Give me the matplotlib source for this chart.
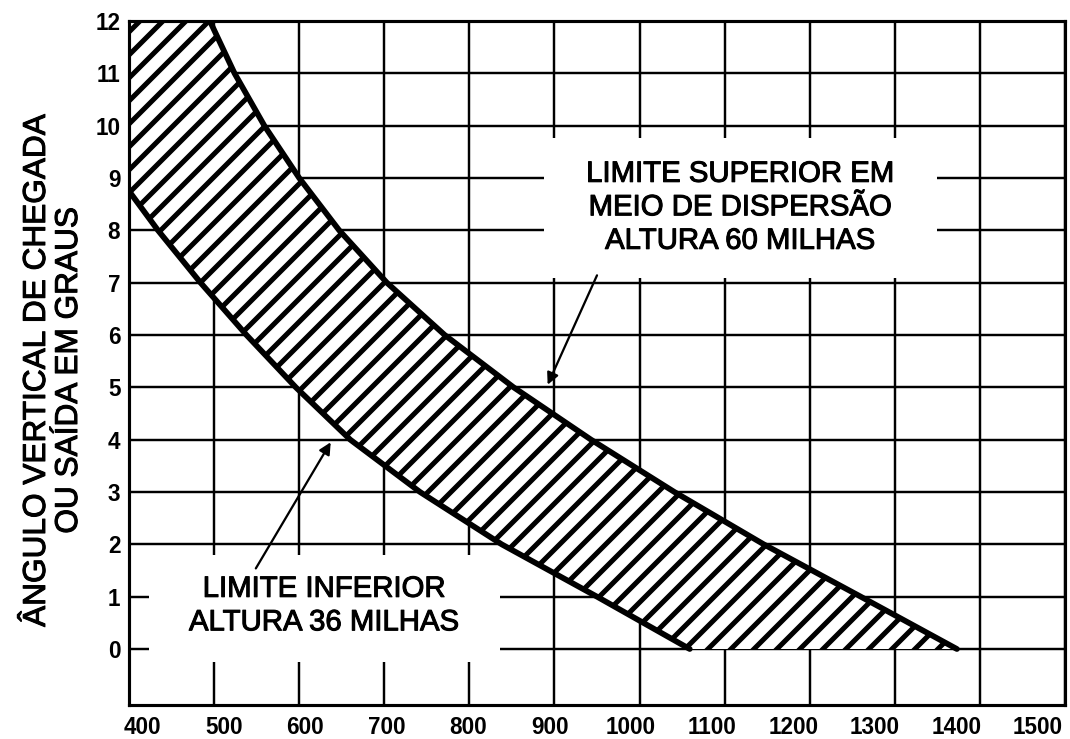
import numpy as np
import matplotlib.pyplot as plt
import matplotlib.patheffects as pe
from matplotlib.patches import Rectangle

DPI = 138
k = 125 / DPI  # tamanhos pensados para 125 dpi

plt.rcParams['font.family'] = ['Liberation Sans', 'DejaVu Sans']
plt.rcParams['hatch.linewidth'] = 2.9 * k

# Escalas dos eixos
x_ticks = np.arange(400, 1501, 100)
y_ticks = np.arange(0, 13, 1)

# Limite superior em meio de dispersão (altura 60 milhas)
sup_x = [495, 524, 559, 600, 647, 703, 771, 852, 943, 1041, 1146, 1260, 1373]
sup_y = [12, 11, 10, 9, 8, 7, 6, 5, 4, 3, 2, 1, 0]

# Limite inferior (altura 36 milhas)
inf_x = [400, 434, 484, 538, 596, 660, 742, 838, 950, 1059]
inf_y = [8.75, 8, 7, 6, 5, 4, 3, 2, 1, 0]

texto_sup = 'LIMITE SUPERIOR EM\nMEIO DE DISPERSÃO\nALTURA 60 MILHAS'
texto_inf = 'LIMITE INFERIOR\nALTURA 36 MILHAS'
titulo_y = 'ÂNGULO VERTICAL DE CHEGADA\nOU SAÍDA EM GRAUS'

fig = plt.figure(figsize=(1070 / DPI, 739 / DPI), dpi=DPI)
ax = fig.add_axes([0.1206, 0.046, 0.8747, 0.9256])
ax.set_xlim(400, 1493)
ax.set_ylim(-1.07, 12)

# grade (linhas principais) e rótulos do eixo x um pouco deslocados
ax.set_xticks(x_ticks)
ax.set_xticklabels([])
pos_rotulos = np.linspace(x_ticks[0] + 16, x_ticks[-1] - 32, len(x_ticks))
ax.set_xticks(pos_rotulos, labels=[str(v) for v in x_ticks], minor=True)
ax.set_yticks(y_ticks)
ax.tick_params(axis='x', which='both', length=0, pad=6.5 * k, labelsize=13 * k)
ax.tick_params(axis='y', length=0, pad=5 * k, labelsize=13 * k)
for lbl in ax.get_xticklabels(minor=True) + ax.get_yticklabels():
    lbl.set_fontweight('bold')

ax.set_axisbelow(True)
ax.grid(True, which='major', color='black', linewidth=1.4 * k)
for s in ax.spines.values():
    s.set_linewidth(1.8 * k)

# áreas brancas atrás das legendas
ax.add_patch(Rectangle((888, 7.09), 462, 2.67, facecolor='white',
                       edgecolor='none', zorder=1))
ax.add_patch(Rectangle((424, -0.25), 412, 2.04, facecolor='white',
                       edgecolor='none', zorder=1))

# faixa hachurada entre os dois limites
xmin, xmax = ax.get_xlim()
ymin, ymax = ax.get_ylim()
px = np.concatenate([sup_x, inf_x[::-1], [xmin]])
py = np.concatenate([sup_y, inf_y[::-1], [ymax]])
ax.fill(px, py, facecolor='white', edgecolor='black', hatch='//',
        linewidth=0, zorder=2)

ax.plot(sup_x, sup_y, color='black', linewidth=3.3 * k, solid_joinstyle='round',
        solid_capstyle='round', zorder=3)
ax.plot(inf_x, inf_y, color='black', linewidth=3.3 * k, solid_joinstyle='round',
        solid_capstyle='round', zorder=3)

# traço um pouco mais grosso nos textos
grosso = [pe.withStroke(linewidth=0.6 * k, foreground='black')]

ax.text(1118, 8.44, texto_sup, ha='center', va='center', fontsize=16.9 * k,
        linespacing=1.25, zorder=4, path_effects=grosso)
ax.text(629, 0.83, texto_inf, ha='center', va='center', fontsize=16.9 * k,
        linespacing=1.25, zorder=4, path_effects=grosso)

seta = dict(arrowstyle='-|>', color='black', lw=1.3 * k, mutation_scale=14 * k,
            shrinkA=0, shrinkB=0)
ax.annotate('', xy=(892, 5.05), xytext=(950, 7.14), arrowprops=seta, zorder=5)
ax.annotate('', xy=(637, 3.95), xytext=(549, 1.54), arrowprops=seta, zorder=5)

fig.text(0.0495, 0.4993, titulo_y, rotation=90, ha='center', va='center',
         multialignment='center', fontsize=18.2 * k, linespacing=1.09,
         path_effects=grosso)

fig.savefig('out.png', dpi=DPI)
